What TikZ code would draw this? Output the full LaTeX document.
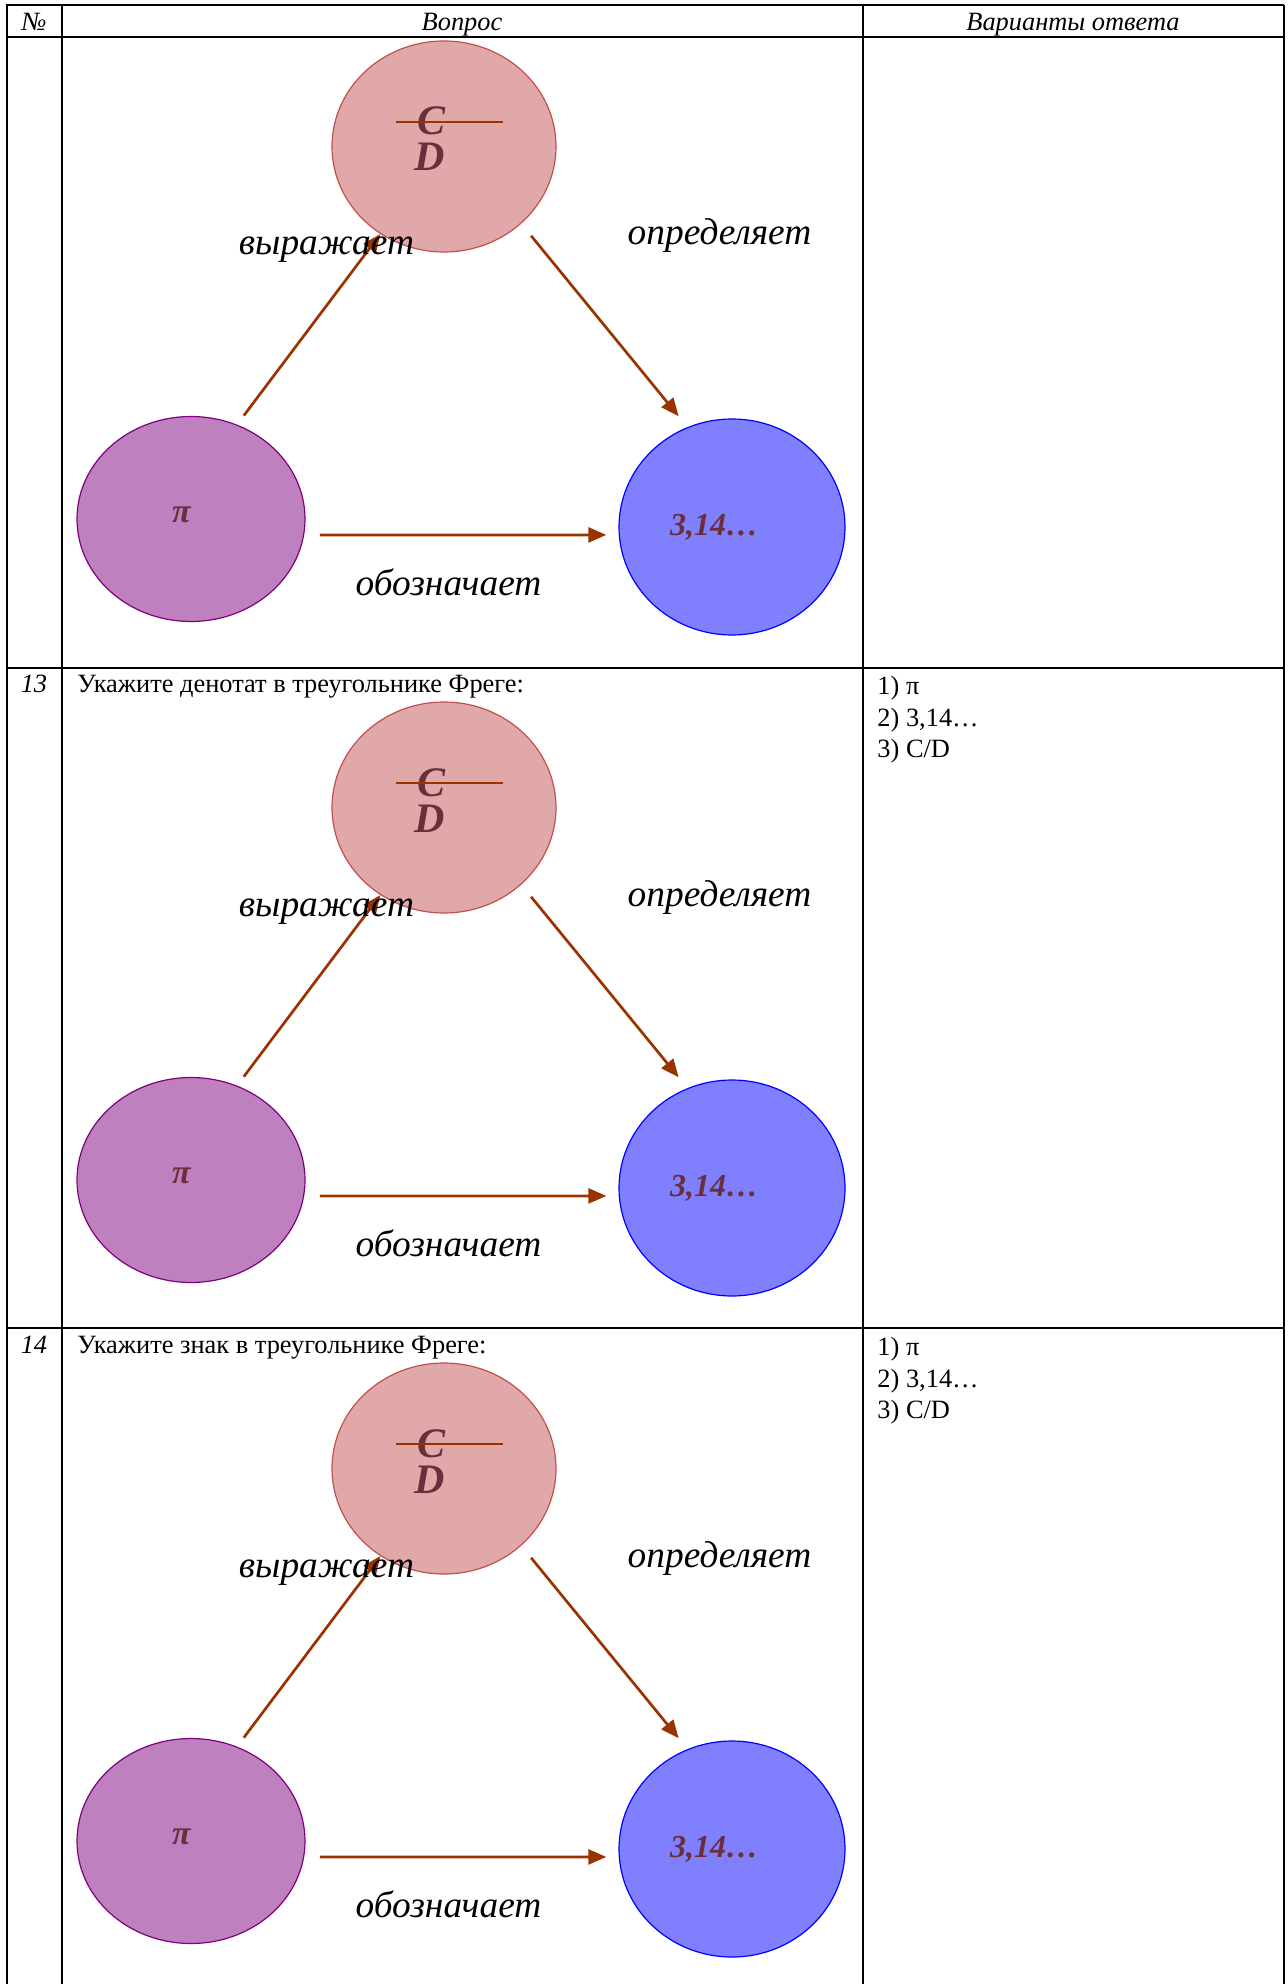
\documentclass[tikz,border=0pt]{standalone}
\usepackage{fontspec}
\setmainfont{Liberation Serif}
\usetikzlibrary{shapes.geometric,arrows.meta}
\definecolor{pinkfill}{HTML}{E0A8A8}
\definecolor{pinkline}{HTML}{C0504D}
\definecolor{purfill}{HTML}{BF80BF}
\definecolor{purline}{HTML}{800080}
\definecolor{bluefill}{HTML}{8080FF}
\definecolor{blueline}{HTML}{0000FF}
\definecolor{arrcol}{HTML}{993300}
\definecolor{txtcol}{HTML}{6B2E3B}
\begin{document}
\begin{tikzpicture}[x=0.5pt,y=-0.5pt,
  gridline/.style={line width=1pt, black},
  ellbase/.style={ellipse, inner sep=0pt, line width=0.6pt},
  pinkell/.style={ellbase, draw=pinkline, fill=pinkfill, minimum width=112pt, minimum height=105.5pt},
  purell/.style={ellbase, draw=purline, fill=purfill, minimum width=114pt, minimum height=102.5pt},
  blueell/.style={ellbase, draw=blueline, fill=bluefill, minimum width=113pt, minimum height=108pt},
  arr/.style={draw=arrcol, line width=1.35pt, -{Triangle[length=9pt,width=7.5pt]}},
  rel/.style={font=\fontsize{18.7}{22}\selectfont\itshape, anchor=base, inner sep=0pt},
  intext/.style={font=\fontsize{#1}{#1}\selectfont\bfseries\itshape, text=txtcol, anchor=base, inner sep=0pt},
  body/.style={font=\fontsize{13.2}{15}\selectfont, anchor=base west, inner sep=0pt},
  numtext/.style={font=\fontsize{13.2}{15}\selectfont\itshape, anchor=base, inner sep=0pt},
  head/.style={font=\fontsize{13.2}{15}\selectfont\itshape, anchor=base, inner sep=0pt}
]
\useasboundingbox (0,0) rectangle (1288,1984);
\fill[white] (0,0) rectangle (1288,1984);

% table grid
\draw[gridline] (6,5) -- (1284,5);
\draw[gridline] (6,37.5) -- (1284,37.5);
\draw[gridline] (6,668) -- (1284,668);
\draw[gridline] (6,1328) -- (1284,1328);
\draw[gridline] (6.5,5) -- (6.5,1984);
\draw[gridline] (62,5) -- (62,1984);
\draw[gridline] (863,5) -- (863,1984);
\draw[gridline] (1283.5,5) -- (1283.5,1984);

% header
\node[head] (hnum) at (34,30.5) {№};
\node[head] (hq) at (462,30.5) {Вопрос};
\node[head] (hans) at (1073,30.5) {Варианты ответа};

% row texts
\node[numtext] (n13) at (34,692) {13};
\node[body] (q13) at (77,692) {Укажите денотат в треугольнике Фреге:};
\node[body] (a13a) at (877,694) {1) π};
\node[body] (a13b) at (877,726) {2) 3,14…};
\node[body] (a13c) at (877,757) {3) C/D};

\node[numtext] (n14) at (34,1353) {14};
\node[body] (q14) at (77,1353) {Укажите знак в треугольнике Фреге:};
\node[body] (a14a) at (877,1355) {1) π};
\node[body] (a14b) at (877,1387) {2) 3,14…};
\node[body] (a14c) at (877,1418) {3) C/D};

% Frege triangles
\foreach \dy/\s in {0/a, 661/b, 1322/c}{
  \begin{scope}[shift={(0,\dy)}]
    \node[purell] (pi\s) at (191,519) {};
    \node[pinkell] (cd\s) at (444,146.5) {};
    \node[blueell] (num\s) at (732,527) {};
    \node[intext=21] (c\s) at (431.5,135) {C};
    \node[intext=21] (d\s) at (430,171) {D};
    \draw[draw=arrcol, line width=1.1pt] (396,122) -- (503,122);
    \node[intext=17] (pit\s) at (181.5,522) {π};
    \node[intext=16] (numt\s) at (714,535) {3,14…};
    \draw[arr, shorten <=5.6pt] (pi\s.64.3) -- (cd\s.234.4);
    \draw[arr, shorten <=7.8pt, shorten >=7pt] (cd\s.-45) -- (num\s.114);
    \draw[arr, shorten <=7.8pt, shorten >=6.2pt] (pi\s.-8.6) -- (num\s.184.6);
    \node[rel] (l1\s) at (326.5,255) {выражает};
    \node[rel] (l2\s) at (719.5,245) {определяет};
    \node[rel] (l3\s) at (448.5,595) {обозначает};
  \end{scope}
}
\end{tikzpicture}
\end{document}
